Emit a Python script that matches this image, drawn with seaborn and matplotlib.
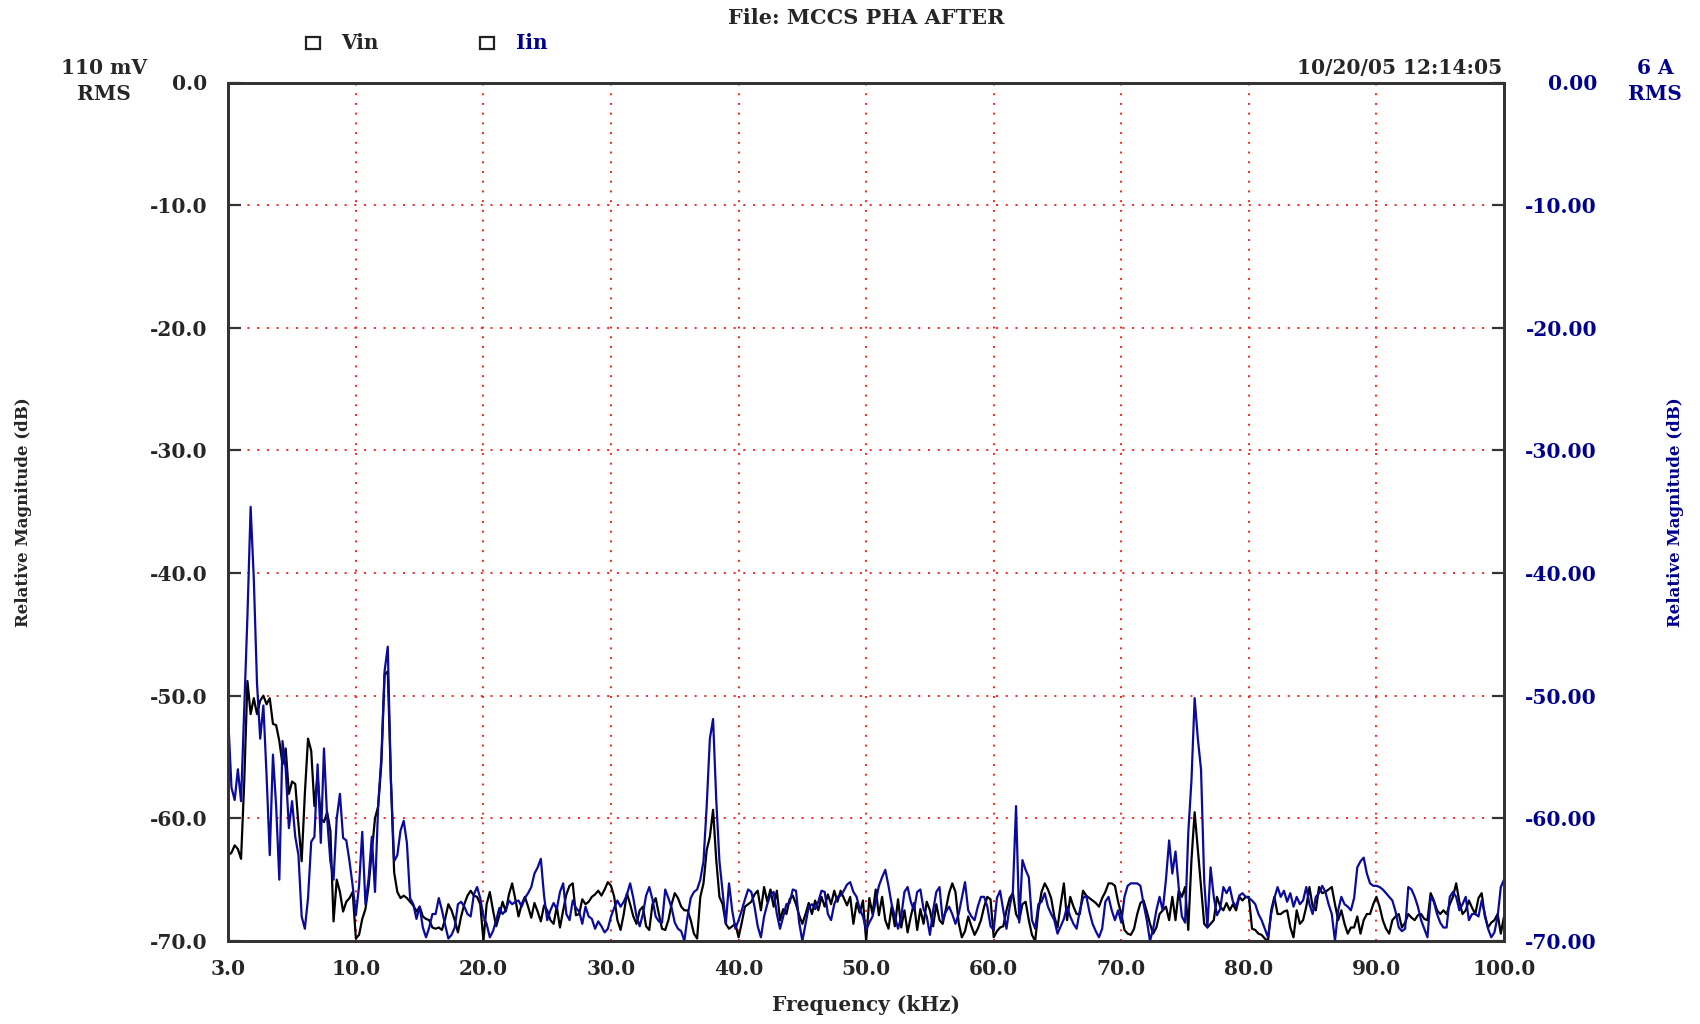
import matplotlib
matplotlib.use("Agg")
import numpy as np
import pandas as pd
import matplotlib.pyplot as plt
from matplotlib.patches import Rectangle
import seaborn as sns

# spectrum data, 0.25 kHz bins across the 100 kHz span
freq_step = 0.25

vin_db = [
    -63.0, -62.8, -62.2, -62.5, -63.3, -57.0, -48.8, -51.5, -50.2, -51.5, -50.4, -50.0, -50.7, -50.2, -52.3, -52.4, -53.7, -55.6, -54.3, -58.0,
    -57.0, -57.2, -60.5, -63.5, -58.0, -53.5, -54.5, -59.0, -56.5, -60.0, -60.3, -59.5, -61.0, -68.4, -65.0, -66.0, -67.6, -66.8, -66.5, -66.0,
    -69.8, -69.5, -68.2, -67.4, -65.5, -62.7, -60.0, -59.0, -55.5, -48.3, -48.0, -57.0, -64.4, -66.0, -66.5, -66.3, -66.5, -66.8, -67.1, -67.6,
    -67.2, -68.0, -68.2, -68.3, -68.9, -69.0, -68.9, -69.1, -68.2, -67.0, -67.5, -68.3, -69.3, -68.0, -67.0, -66.3, -65.9, -66.3, -66.4, -67.0,
    -70.0, -67.0, -66.0, -67.5, -68.8, -67.9, -66.8, -67.6, -66.2, -65.3, -66.6, -68.0, -67.0, -66.4, -67.2, -68.1, -66.9, -67.6, -68.4, -67.1,
    -67.5, -68.3, -68.6, -67.2, -68.9, -67.5, -66.2, -65.5, -65.3, -67.9, -67.8, -66.6, -67.0, -66.8, -66.4, -66.2, -65.9, -66.3, -65.8, -65.2,
    -65.5, -66.4, -68.3, -69.1, -67.8, -66.1, -67.0, -68.0, -68.6, -67.5, -67.2, -68.8, -69.1, -67.0, -66.5, -67.8, -69.0, -69.1, -68.3, -67.0,
    -66.1, -66.5, -67.2, -67.5, -67.5, -68.3, -69.4, -69.8, -66.4, -65.3, -62.6, -61.5, -59.3, -63.4, -66.4, -67.0, -68.6, -69.0, -68.8, -68.6,
    -69.7, -68.5, -67.2, -67.0, -66.8, -66.2, -65.9, -67.5, -65.6, -66.8, -65.8, -67.2, -65.9, -68.3, -67.4, -67.8, -66.6, -66.3, -67.0, -67.9,
    -68.6, -67.8, -66.9, -67.8, -66.7, -67.5, -66.4, -67.2, -66.2, -67.0, -65.9, -66.8, -65.9, -66.5, -67.1, -66.4, -68.6, -66.9, -67.7, -66.7,
    -70.0, -66.5, -67.8, -65.8, -67.9, -66.4, -68.3, -69.0, -67.2, -68.8, -66.6, -68.9, -67.5, -69.3, -68.0, -66.9, -69.1, -67.4, -68.6, -66.8,
    -67.5, -68.8, -67.0, -68.3, -68.6, -67.4, -66.1, -65.3, -66.0, -68.5, -69.7, -69.2, -68.0, -68.8, -69.5, -69.0, -68.3, -67.2, -66.4, -66.6,
    -69.7, -69.2, -68.9, -68.8, -67.5, -66.5, -66.1, -67.8, -68.3, -67.0, -66.8, -68.3, -69.5, -70.0, -67.5, -66.0, -65.3, -65.8, -66.5, -68.0,
    -68.9, -67.0, -65.3, -68.3, -66.4, -67.2, -67.8, -67.8, -65.9, -66.3, -66.5, -66.7, -66.9, -67.2, -66.5, -66.0, -65.3, -65.3, -65.5, -66.8,
    -67.8, -69.1, -69.4, -69.5, -69.0, -67.8, -66.9, -66.7, -67.6, -68.6, -69.4, -68.9, -67.8, -67.5, -67.2, -68.3, -66.4, -68.3, -65.9, -66.4,
    -65.6, -69.1, -63.4, -59.5, -62.5, -65.5, -68.6, -68.9, -68.6, -68.3, -66.4, -67.2, -67.5, -66.9, -67.5, -67.0, -67.5, -66.4, -66.7, -66.4,
    -66.4, -69.0, -69.1, -69.4, -69.5, -69.8, -70.0, -67.5, -66.4, -67.8, -67.8, -67.6, -67.5, -68.9, -69.7, -67.5, -68.6, -68.3, -67.2, -65.6,
    -67.2, -67.5, -65.6, -66.1, -66.0, -65.8, -65.6, -67.0, -68.3, -67.5, -68.6, -69.4, -68.9, -68.9, -68.0, -69.4, -68.3, -67.8, -67.8, -67.0,
    -66.4, -67.2, -68.3, -69.0, -69.4, -68.3, -68.0, -67.8, -68.9, -68.5, -67.8, -68.1, -68.3, -67.9, -67.8, -68.2, -68.3, -66.1, -66.7, -67.5,
    -67.8, -67.5, -67.8, -67.0, -66.4, -65.3, -66.8, -67.8, -67.5, -66.7, -67.3, -67.8, -66.5, -66.1, -68.0, -68.9, -68.5, -68.3, -67.8, -69.4,
    -68.0,
]

iin_db = [
    -52.0, -57.5, -58.5, -56.0, -58.6, -51.0, -43.5, -34.6, -40.5, -49.0, -53.5, -50.8, -56.5, -63.0, -54.8, -59.0, -65.0, -53.7, -56.0, -60.8,
    -58.6, -61.5, -63.0, -68.0, -69.0, -66.5, -61.9, -61.5, -55.6, -62.0, -54.3, -60.0, -63.5, -65.0, -60.0, -58.0, -61.6, -61.8, -63.5, -65.5,
    -67.9, -65.5, -61.1, -67.0, -64.9, -61.5, -66.0, -58.9, -55.0, -48.0, -46.0, -57.0, -63.5, -63.0, -61.0, -60.2, -62.0, -66.5, -67.0, -68.2,
    -67.2, -68.9, -69.7, -68.9, -67.8, -67.8, -66.5, -67.5, -68.7, -69.8, -69.5, -68.9, -67.0, -66.8, -67.2, -67.8, -68.0, -66.2, -65.6, -66.5,
    -68.0, -68.6, -69.7, -69.2, -68.3, -67.3, -67.8, -67.5, -66.7, -67.0, -66.8, -66.7, -67.2, -66.5, -66.1, -65.6, -64.5, -64.0, -63.3, -66.3,
    -68.3, -67.5, -66.9, -67.4, -66.0, -65.3, -67.8, -68.3, -66.7, -67.3, -67.6, -68.6, -67.2, -68.0, -68.2, -69.0, -68.4, -68.8, -69.3, -69.0,
    -68.0, -67.3, -66.7, -67.2, -66.8, -66.2, -65.3, -66.5, -68.0, -68.8, -67.8, -66.3, -65.6, -66.6, -68.0, -68.4, -68.5, -65.8, -66.5, -67.3,
    -68.5, -69.0, -69.2, -70.0, -68.0, -66.5, -66.0, -65.8, -65.0, -63.5, -59.0, -53.5, -51.9, -58.5, -63.5, -66.0, -68.6, -65.3, -67.5, -69.0,
    -68.3, -67.5, -66.6, -65.8, -66.0, -67.2, -68.8, -69.7, -68.0, -67.0, -66.2, -66.0, -67.8, -69.0, -68.0, -67.0, -66.9, -65.8, -65.9, -68.5,
    -70.0, -68.6, -67.2, -67.0, -67.4, -66.8, -65.9, -66.0, -67.8, -68.3, -67.0, -66.4, -66.3, -65.9, -65.4, -65.2, -66.0, -66.4, -67.4, -68.0,
    -69.1, -68.5, -68.0, -66.8, -65.5, -64.8, -64.2, -65.5, -67.0, -68.0, -69.0, -68.0, -66.0, -65.6, -66.8, -67.5, -66.0, -65.8, -67.4, -68.0,
    -69.5, -67.5, -66.0, -65.6, -68.3, -67.6, -67.2, -67.8, -68.6, -67.8, -66.5, -65.2, -67.5, -68.0, -68.3, -67.2, -66.4, -66.4, -67.2, -68.8,
    -69.1, -66.5, -65.9, -67.5, -69.0, -67.2, -66.0, -59.0, -68.5, -63.4, -64.2, -64.8, -68.3, -69.0, -67.0, -66.8, -66.1, -67.2, -67.8, -68.3,
    -69.4, -68.8, -68.2, -67.2, -68.0, -68.6, -69.0, -67.5, -66.5, -66.3, -67.6, -68.6, -69.2, -69.7, -69.0, -66.8, -66.4, -67.5, -68.3, -67.5,
    -68.5, -66.4, -65.5, -65.3, -65.3, -65.3, -65.5, -67.0, -68.3, -70.0, -69.0, -67.5, -66.4, -67.5, -65.0, -61.8, -64.5, -62.7, -65.6, -68.0,
    -68.5, -61.2, -56.9, -50.2, -53.5, -56.0, -65.1, -68.9, -64.0, -66.4, -67.9, -67.4, -65.6, -66.1, -65.6, -66.8, -67.2, -66.3, -66.1, -66.4,
    -66.5, -66.7, -67.0, -67.8, -68.3, -69.0, -69.7, -67.8, -66.5, -65.6, -66.4, -65.9, -66.8, -66.1, -67.2, -66.4, -67.0, -66.7, -65.6, -67.0,
    -67.8, -66.4, -66.1, -65.5, -66.0, -67.0, -67.8, -70.0, -67.5, -66.4, -67.0, -67.2, -67.5, -66.5, -64.0, -63.5, -63.2, -64.5, -65.3, -65.5,
    -65.5, -65.6, -65.8, -66.1, -66.4, -66.7, -67.6, -68.9, -69.2, -69.0, -65.6, -65.8, -66.4, -67.2, -68.3, -69.0, -69.7, -66.4, -66.8, -67.8,
    -68.5, -68.9, -68.9, -66.4, -66.0, -66.4, -67.5, -67.0, -66.4, -68.3, -67.8, -67.8, -68.0, -66.7, -67.8, -69.0, -69.7, -69.3, -68.0, -65.6,
    -65.0,
]

x_ticks = [0, 10, 20, 30, 40, 50, 60, 70, 80, 90, 100]
x_labels = ["3.0", "10.0", "20.0", "30.0", "40.0", "50.0", "60.0", "70.0", "80.0", "90.0", "100.0"]
y_ticks = [0, -10, -20, -30, -40, -50, -60, -70]
y_labels_left = ["0.0", "-10.0", "-20.0", "-30.0", "-40.0", "-50.0", "-60.0", "-70.0"]
y_labels_right = ["0.00", "-10.00", "-20.00", "-30.00", "-40.00", "-50.00", "-60.00", "-70.00"]

freq = np.arange(len(vin_db)) * freq_step
df_v = pd.DataFrame({"freq": freq, "dB": vin_db})
df_i = pd.DataFrame({"freq": freq, "dB": iin_db})

BLUE = "#0a0a9c"
TXT_BLUE = "#00008f"
FS = 14.5

sns.set_style("white")
plt.rcParams["font.family"] = ["DejaVu Serif"]
plt.rcParams["font.weight"] = "bold"
plt.rcParams["axes.unicode_minus"] = False

W, H = 1700, 1024
fig = plt.figure(figsize=(17, 10.24), dpi=100)
L, R, T, B = 228.3, 1504, 82.5, 941
ax = fig.add_axes([L / W, 1 - B / H, (R - L) / W, (B - T) / H])

sns.lineplot(data=df_v, x="freq", y="dB", color="black", lw=1.6, ax=ax,
             estimator=None, sort=False, zorder=3)
ax.set_xlim(0, 100)
ax.set_ylim(-70, 0)
ax.set_xticks(x_ticks)
ax.set_xticklabels(x_labels, fontsize=FS, fontweight="bold")
ax.set_yticks(y_ticks)
ax.set_yticklabels(y_labels_left, fontsize=FS, fontweight="bold")
ax.set_xlabel("")
ax.set_ylabel("")
ax.grid(True, color="#ff2020", linestyle=(0, (1, 4)), linewidth=1.4)
ax.set_axisbelow(True)
ax.tick_params(axis="x", direction="in", length=8, width=1.6, pad=13, color="#333333")
ax.tick_params(axis="y", direction="in", length=9, width=1.6, pad=15, color="#333333")

ax2 = ax.twinx()
sns.lineplot(data=df_i, x="freq", y="dB", color=BLUE, lw=1.6, ax=ax2,
             estimator=None, sort=False)
ax2.set_ylim(-70, 0)
ax2.set_yticks(y_ticks)
ax2.set_yticklabels(y_labels_right, fontsize=FS, fontweight="bold", color=TXT_BLUE, ha="right")
ax2.set_ylabel("")
ax2.tick_params(axis="y", direction="in", length=9, width=1.6, pad=67, color="#333333")

for a in (ax, ax2):
    for sp in a.spines.values():
        sp.set_visible(True)
        sp.set_linewidth(2.0)
        sp.set_color("#333333")

# header texts
fig.text(866 / W, 1 - 18 / H, "File: MCCS PHA AFTER", ha="center", va="center", fontsize=15, fontweight="bold")
fig.text(104 / W, 1 - 68 / H, "110 mV", ha="center", va="center", fontsize=FS, fontweight="bold")
fig.text(104 / W, 1 - 94 / H, "RMS", ha="center", va="center", fontsize=FS, fontweight="bold")
fig.text(1502 / W, 1 - 68 / H, "10/20/05 12:14:05", ha="right", va="center", fontsize=FS, fontweight="bold")
fig.text(1655 / W, 1 - 68 / H, "6 A", ha="center", va="center", fontsize=FS, fontweight="bold", color=TXT_BLUE)
fig.text(1655 / W, 1 - 94 / H, "RMS", ha="center", va="center", fontsize=FS, fontweight="bold", color=TXT_BLUE)

# legend boxes
for x0 in (306, 480):
    fig.patches.append(Rectangle((x0 / W, 1 - 49 / H), 14 / W, 12 / H, transform=fig.transFigure,
                                 fill=False, edgecolor="#222222", linewidth=1.6))
fig.text(341 / W, 1 - 43 / H, "Vin", ha="left", va="center", fontsize=FS, fontweight="bold")
fig.text(516 / W, 1 - 43 / H, "Iin", ha="left", va="center", fontsize=FS, fontweight="bold", color=TXT_BLUE)

# axis titles
fig.text(866 / W, 1 - 1005 / H, "Frequency (kHz)", ha="center", va="center", fontsize=FS, fontweight="bold")
fig.text(24 / W, 0.5, "Relative Magnitude (dB)", ha="center", va="center", rotation=90, fontsize=12, fontweight="bold")
fig.text(1676 / W, 0.5, "Relative Magnitude (dB)", ha="center", va="center", rotation=90, fontsize=12,
         fontweight="bold", color=TXT_BLUE)

fig.savefig("out.png", dpi=100)
